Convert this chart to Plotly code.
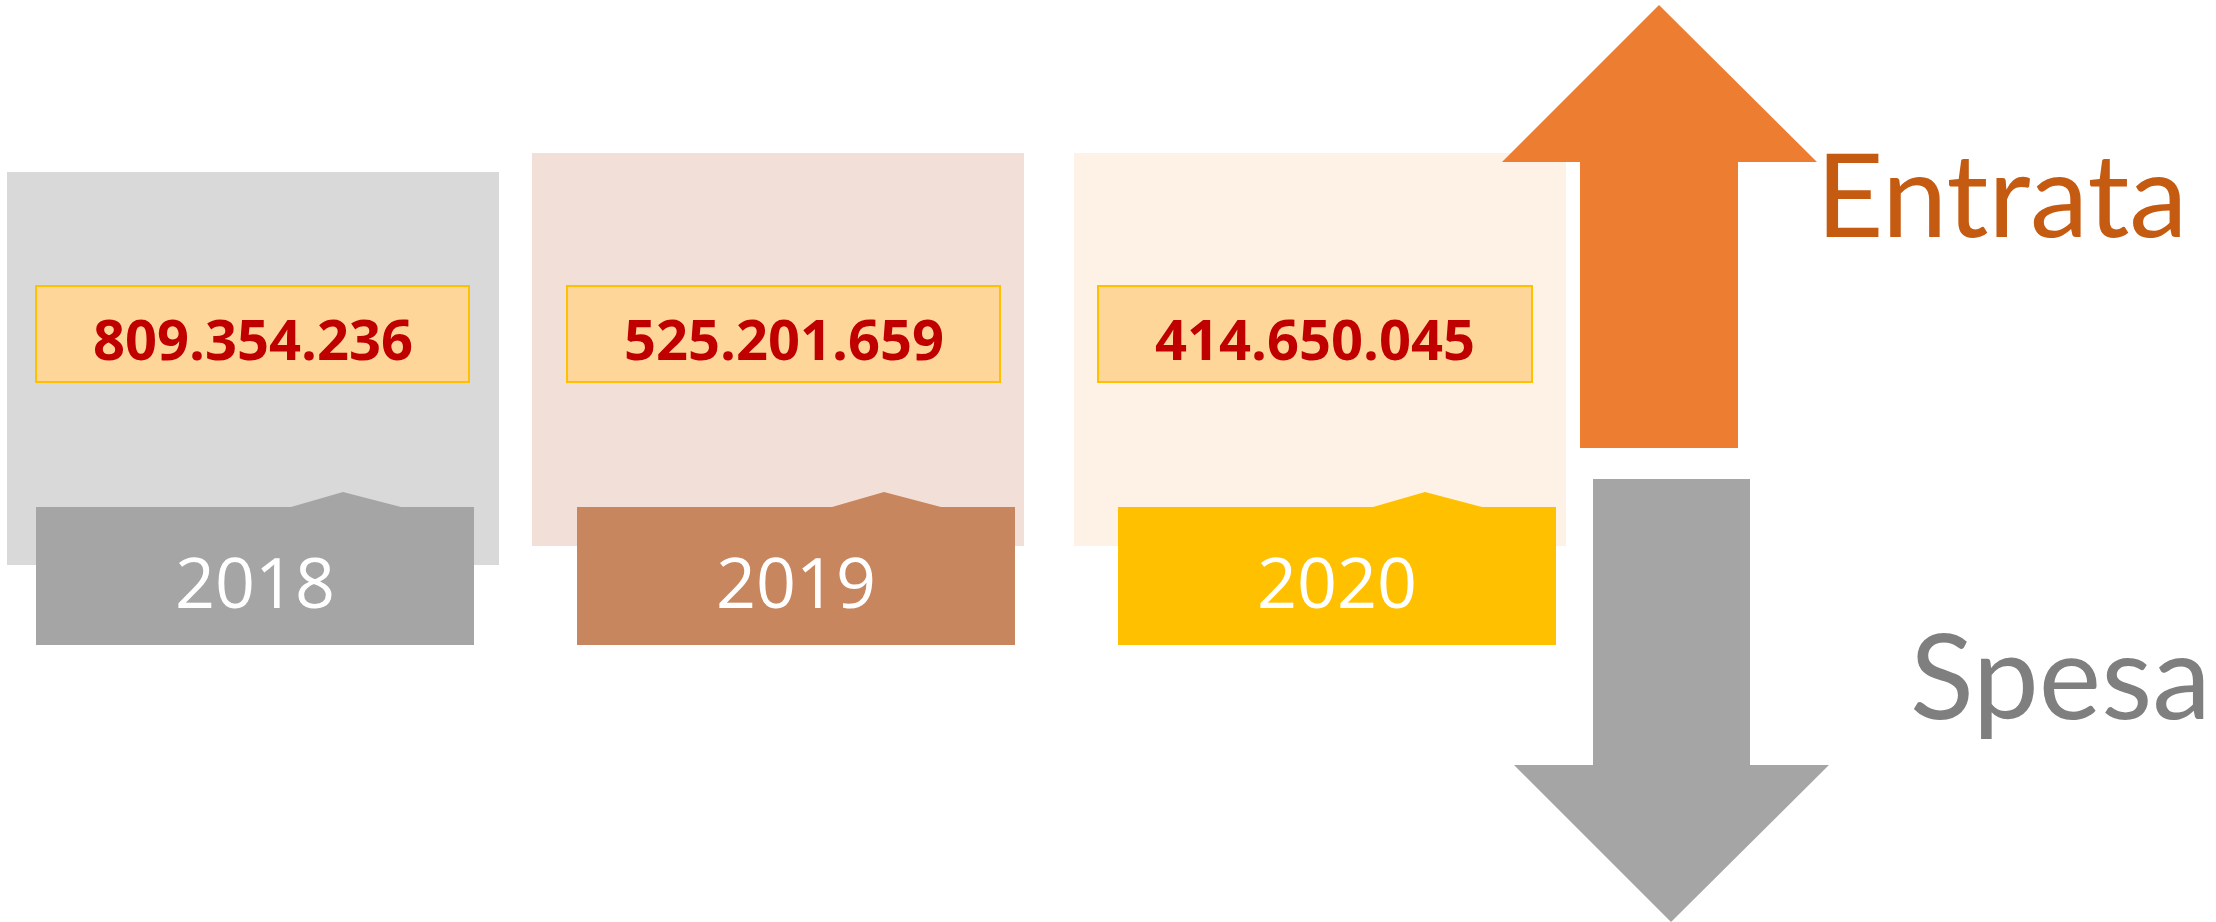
import plotly.graph_objects as go

# ---- data ----
years = ["2018", "2019", "2020"]
values = [809354236, 525201659, 414650045]
flow_labels = ["Entrata", "Spesa"]

# ---- styling / layout ----
W, H = 2216, 922
panel_colors = ["#D9D9D9", "#F2E0D8", "#FEF2E6"]
tab_colors = ["#A5A5A5", "#C8865E", "#FFC000"]
box_fill = "#FED699"
box_line = "#FFC000"
value_color = "#C00000"

panels = [  # x0, x1, y0, y1
    (7, 499, 172, 565),
    (532, 1024, 153, 546),
    (1074, 1566, 153, 546),
]
boxes = [
    (36, 469, 286, 382),
    (567, 1000, 286, 382),
    (1098, 1532, 286, 382),
]
tabs = [  # x0, x1, ytop, ybot, notch_l, peak_x, notch_r, peak_y
    (36, 474, 507, 645, 291, 343, 401, 492),
    (577, 1015, 507, 645, 832, 884, 941, 492),
    (1118, 1556, 507, 645, 1373, 1425, 1482, 492),
]

shapes = []
annotations = []

def fmt(v):
    return f"{v:,}".replace(",", ".")

for i in range(len(years)):
    px0, px1, py0, py1 = panels[i]
    shapes.append(dict(type="rect", xref="x", yref="y", x0=px0, x1=px1, y0=py0, y1=py1,
                       fillcolor=panel_colors[i], line=dict(width=0)))
    bx0, bx1, by0, by1 = boxes[i]
    shapes.append(dict(type="rect", xref="x", yref="y", x0=bx0, x1=bx1, y0=by0, y1=by1,
                       fillcolor=box_fill, line=dict(color=box_line, width=2)))
    tx0, tx1, tt, tb, nl, pk, nr, pky = tabs[i]
    path = (f"M {tx0},{tt} L {nl},{tt} L {pk},{pky} L {nr},{tt} L {tx1},{tt} "
            f"L {tx1},{tb} L {tx0},{tb} Z")
    shapes.append(dict(type="path", xref="x", yref="y", path=path,
                       fillcolor=tab_colors[i], line=dict(width=0)))
    annotations.append(dict(x=(bx0 + bx1) / 2, y=(by0 + by1) / 2 + 4, xref="x", yref="y",
                            text=f"<b>{fmt(values[i])}</b>", showarrow=False,
                            font=dict(family="Open Sans", size=56, color=value_color),
                            xanchor="center", yanchor="middle"))
    annotations.append(dict(x=(tx0 + tx1) / 2, y=(tt + tb) / 2 + 5, xref="x", yref="y",
                            text=years[i], showarrow=False,
                            font=dict(family="Open Sans", size=70, color="white"),
                            xanchor="center", yanchor="middle"))

# arrows
up_path = "M 1659,5 L 1817,162 L 1738,162 L 1738,448 L 1580,448 L 1580,162 L 1502,162 Z"
down_path = "M 1593,479 L 1750,479 L 1750,765 L 1829,765 L 1671,922 L 1514,765 L 1593,765 Z"
shapes.append(dict(type="path", xref="x", yref="y", path=up_path,
                   fillcolor="#ED7D31", line=dict(width=0)))
shapes.append(dict(type="path", xref="x", yref="y", path=down_path,
                   fillcolor="#A5A5A5", line=dict(width=0)))

annotations.append(dict(x=1814, y=192, xref="x", yref="y", text=flow_labels[0], showarrow=False,
                        font=dict(family="Lato", size=117, color="#C55A11"),
                        xanchor="left", yanchor="middle"))
annotations.append(dict(x=1908, y=673, xref="x", yref="y", text=flow_labels[1], showarrow=False,
                        font=dict(family="Lato", size=118, color="#7F7F7F"),
                        xanchor="left", yanchor="middle"))

fig = go.Figure()
fig.add_trace(go.Scatter(x=[0, W], y=[0, H], mode="markers",
                         marker=dict(opacity=0), hoverinfo="skip", showlegend=False))
fig.update_layout(
    width=W, height=H,
    margin=dict(l=0, r=0, t=0, b=0),
    paper_bgcolor="white", plot_bgcolor="white",
    xaxis=dict(range=[0, W], visible=False, fixedrange=True),
    yaxis=dict(range=[H, 0], visible=False, fixedrange=True),
    shapes=shapes, annotations=annotations, showlegend=False,
)
fig.write_html("out.html", config={"displayModeBar": False},
               post_script="document.body.style.margin='0';document.body.style.overflow='hidden';")
